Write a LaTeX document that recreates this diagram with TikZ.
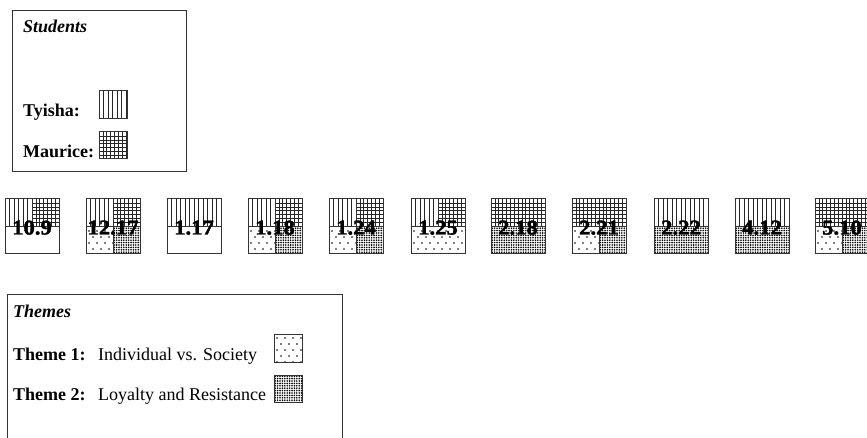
\documentclass[tikz,border=0pt]{standalone}
\usepackage{fontspec}
\setmainfont{Liberation Serif}
\newfontfamily\labfont{Liberation Serif}[BoldFeatures={FakeBold=1.8,FakeStretch=1.08}]
\tikzset{
  boxline/.style={draw=black!80, line width=1pt},
  hatch/.style={draw=black!85, line width=0.5pt},
  dotc/.style={fill=black},
  txt/.style={inner sep=0pt, anchor=base west, font=\fontsize{18}{20}\selectfont},
  lab/.style={inner sep=0pt, anchor=base, font=\fontsize{21}{23}\selectfont\labfont\bfseries}
}
% vertical lines (Tyisha)
\newcommand\pfty[4]{\begin{scope}\clip (#1,#2) rectangle (#3,#4);
 \pgfmathtruncatemacro\nlx{((#3)-(#1))/4.5}
 \foreach \i in {1,...,\nlx}{\draw[hatch] ({#1+\i*4.5},#2) -- ({#1+\i*4.5},#4);}
 \end{scope}}
% grid (Maurice)
\newcommand\pfma[4]{\begin{scope}\clip (#1,#2) rectangle (#3,#4);
 \pgfmathtruncatemacro\nlx{((#3)-(#1))/3.857}
 \pgfmathtruncatemacro\nly{((#4)-(#2))/3.9}
 \foreach \i in {1,...,\nlx}{\draw[hatch] ({#1+\i*3.857},#2) -- ({#1+\i*3.857},#4);}
 \foreach \i in {1,...,\nly}{\draw[hatch] (#1,{#2+\i*3.9}) -- (#3,{#2+\i*3.9});}
 \end{scope}}
% sparse dots (Theme 1)
\newcommand\pfsp[4]{\begin{scope}\clip (#1,#2) rectangle (#3,#4);
 \pgfmathtruncatemacro\nlx{((#3)-(#1))/8}
 \pgfmathtruncatemacro\nly{((#4)-(#2))/6}
 \foreach \r in {0,...,\nly}{\foreach \cc in {0,...,\nlx}{
   \fill[dotc] ({#1+3+\cc*8+mod(\r,2)*4},{#2+4+\r*6}) circle (0.8pt);}}
 \end{scope}}
% dense dots (Theme 2)
\newcommand\pfdn[4]{\begin{scope}\clip (#1,#2) rectangle (#3,#4);
 \pgfmathtruncatemacro\nlx{((#3)-(#1))/2.4+1}
 \pgfmathtruncatemacro\nly{((#4)-(#2))/2.4+1}
 \foreach \r in {0,...,\nly}{\foreach \cc in {0,...,\nlx}{
   \fill[dotc] ({#1+1.2+\cc*2.4},{#2+1.2+\r*2.4}) circle (0.9pt);}}
 \end{scope}}
\newcommand\pfno[4]{}
% one half-row of a square: #1 x0, #2 ytop, #3 ybot, #4 left, #5 right
\newcommand\halfrow[5]{%
 \edef\hrA{#4}\edef\hrB{#5}%
 \ifx\hrA\hrB
   \csname pf#4\endcsname{#1}{#2}{#1+54}{#3}%
 \else
   \csname pf#4\endcsname{#1}{#2}{#1+27}{#3}%
   \csname pf#5\endcsname{#1+27}{#2}{#1+54}{#3}%
   \draw[boxline] (#1+27,#2) -- (#1+27,#3);
 \fi}
\begin{document}
\begin{tikzpicture}[x=1pt,y=-1pt]
\useasboundingbox (0,0) rectangle (867,438);

% Students legend
\draw[boxline] (12,11) rectangle (186,172);
\node[txt] (students) at (23,33) {\bfseries\itshape Students};
\node[txt] (tyisha) at (23,117) {\bfseries Tyisha:};
\node[txt] (maurice) at (23,158) {\bfseries Maurice:};
\pfty{99}{91}{127}{119}
\draw[boxline] (99,91) rectangle (127,119);
\pfma{99}{132}{127}{159}
\draw[boxline] (99,132) rectangle (127,159);

% squares
\foreach \sx/\lab/\ta/\tb/\ba/\bb [count=\n] in {
  5/10.9/ty/ma/no/no,
  86/12.17/ty/ma/sp/dn,
  167/1.17/ty/ty/no/no,
  248/1.18/ty/ma/sp/dn,
  329/1.24/ty/ma/sp/dn,
  411/1.25/ty/ma/sp/sp,
  491/2.18/ma/ma/dn/dn,
  572/2.21/ma/ma/sp/dn,
  654/2.22/ty/ty/dn/dn,
  735/4.12/ty/ty/dn/dn,
  815/5.10/ma/ma/sp/dn}{
  \halfrow{\sx}{199}{227}{\ta}{\tb}
  \halfrow{\sx}{227}{254}{\ba}{\bb}
  \draw[boxline] (\sx,199) rectangle (\sx+54,254);
  \draw[boxline] (\sx,227) -- (\sx+54,227);
  \node[lab] (q\n) at (\sx+27,234.5) {\lab};
}

% Themes legend
\draw[boxline] (7,450) -- (7,294) -- (342,294) -- (342,450);
\node[txt] (themes) at (13,317) {\bfseries\itshape Themes};
\node[txt] (th1) at (13,360) {\bfseries Theme 1:};
\node[txt] (th1t) at (98,360) {Individual vs. Society};
\node[txt] (th2) at (13,400) {\bfseries Theme 2:};
\node[txt] (th2t) at (98,400) {Loyalty and Resistance};
\pfsp{274}{334}{302}{362}
\draw[boxline] (274,334) rectangle (302,362);
\pfdn{274}{375}{302}{402}
\draw[boxline] (274,375) rectangle (302,402);
\end{tikzpicture}
\end{document}
